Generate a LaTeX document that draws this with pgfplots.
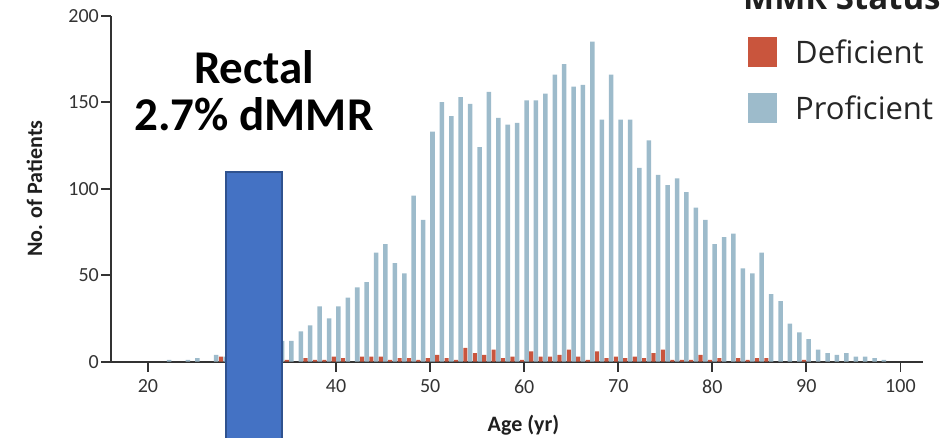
\documentclass[border=0pt]{standalone}
\usepackage{fontspec}
\setmainfont{Carlito}
\newfontfamily\legfont{Open Sans}
\usepackage{pgfplots}
\pgfplotsset{compat=1.18}
\definecolor{defred}{HTML}{C9553D}
\definecolor{problue}{HTML}{9DBBCB}
\definecolor{rectblue}{HTML}{4472C4}
\definecolor{rectedge}{HTML}{2F528F}
\definecolor{axgray}{HTML}{333333}

\pgfplotstableread{
age n
28 3
35 1
37 2
38 1
39 1
40 3
41 2
43 3
44 3
45 3
46 1
47 2
48 2
49 1
50 2
51 4
52 2
53 1
54 8
55 5
56 4
57 7
58 2
59 3
60 1
61 6
62 3
63 3
64 4
65 7
66 3
67 1
68 6
69 2
70 3
71 2
72 3
73 2
74 5
75 7
76 1
77 1
78 1
79 4
80 1
81 2
83 2
84 1
85 2
86 2
90 1
}\deficient

\pgfplotstableread{
age n
22 1
24 1
25 2
27 4
28 3
29 5
30 6
31 7
32 8
33 10
34 12
35 12
36 17.5
37 21
38 32
39 25
40 32
41 37
42 43
43 46
44 63
45 68
46 57
47 51
48 96
49 82
50 133
51 150
52 142
53 153
54 149
55 124
56 156
57 141
58 137
59 138
60 151
61 151
62 155
63 166
64 172
65 159
66 160
67 185
68 140
69 166
70 140
71 140
72 112
73 128
74 108
75 102
76 106
77 98
78 89
79 82
80 68
81 72
82 74
83 54
84 51
85 63
86 39
87 35
88 22
89 17
90 13
91 7
92 5
93 4
94 5
95 3
96 3
97 2
98 1
}\proficient

\begin{document}
\begin{tikzpicture}
\begin{axis}[
  at={(0pt,0pt)}, anchor=south west,
  scale only axis, width=812pt, height=346pt,
  xmin=16.07, xmax=102.4, ymin=0, ymax=200,
  axis x line=bottom, axis y line=left,
  axis line style={-, line width=1.8pt, color=axgray},
  x axis line style={-}, y axis line style={-},
  xtick={20,30,...,100},
  ytick={0,50,...,200},
  tick align=outside,
  major tick length=10pt,
  tick style={line width=1.8pt, color=axgray},
  ticklabel style={font=\fontsize{20}{24}\selectfont, color=axgray},
  /pgf/number format/assume math mode=true,
  xticklabel style={inner sep=0pt, anchor=north, yshift=-8pt},
  yticklabel style={inner sep=0pt, anchor=east, xshift=-2pt},
  xlabel={Age (yr)},
  xlabel style={at={(axis description cs:0.508,0)}, anchor=base, yshift=-70pt, font=\bfseries\fontsize{22}{26}\selectfont, color=black!88},
  ylabel={No. of Patients},
  ylabel style={at={(axis description cs:-0.0942,0.5)}, anchor=center, font=\bfseries\fontsize{22}{26}\selectfont, color=black!88},
  legend style={at={(axis description cs:0.7845,0.9384)}, anchor=north west, draw=none, fill=none, inner sep=0pt, row sep=26pt, font=\legfont\fontsize{31}{36}\selectfont, text=black!85, nodes={inner sep=0pt}},
  legend cell align=left,
  legend image code/.code={\fill[#1] (0pt,-15pt) rectangle (29pt,15pt); \path (47pt,0pt);},
  clip=false,
]
\addplot[ybar, bar width=0.44, bar shift=-0.25, fill=defred, draw=none] table[x=age, y=n] {\deficient};
\addlegendentry{Deficient}
\addplot[ybar, bar width=0.48, bar shift=0.25, fill=problue, draw=none] table[x=age, y=n] {\proficient};
\addlegendentry{Proficient}
\coordinate (rA) at (axis cs:28.28,-60);
\coordinate (rB) at (axis cs:34.24,109.7);
\end{axis}
\draw[fill=rectblue, draw=rectedge, line width=1.5pt] (rA) rectangle (rB);
\node[anchor=base, font=\bfseries\fontsize{47}{52}\selectfont] at (143pt,278.4pt) {Rectal};
\node[anchor=base, font=\bfseries\fontsize{47}{52}\selectfont] at (143pt,231.7pt) {2.7\% dMMR};
\node[anchor=base west, inner sep=0pt, font=\legfont\bfseries\fontsize{33}{36}\selectfont, text=black!88] at (632pt,351.7pt) {MMR Status};
\pgfresetboundingbox
\path[use as bounding box] (-111pt,-75.3pt) rectangle (841pt,361.7pt);
\end{tikzpicture}
\end{document}
